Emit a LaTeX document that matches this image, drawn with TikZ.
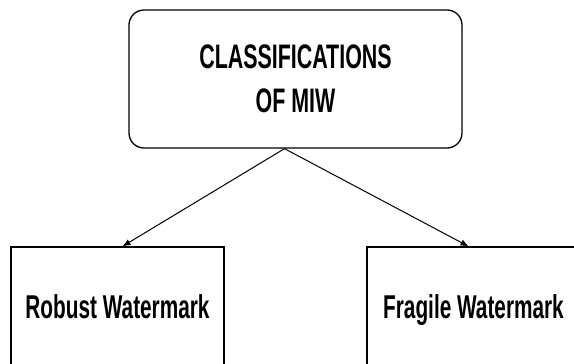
\documentclass[tikz,border=0pt]{standalone}
\usepackage{fontspec}
\newfontfamily\diagfont[FakeStretch=0.63]{Liberation Sans}
\usetikzlibrary{positioning,arrows.meta}
\tikzset{
  rootblk/.style ={draw=black, fill=white, rounded corners=15pt, align=center,
                   font=\diagfont\bfseries\fontsize{34}{44}\selectfont, inner sep=0pt,
                   line width=1.3pt, minimum width=333pt, minimum height=138pt},
  leafblk/.style ={draw=black, fill=white, align=center,
                   font=\diagfont\bfseries\fontsize{33}{37}\selectfont, inner sep=0pt,
                   line width=1.3pt, minimum width=213pt, minimum height=119pt,
                   text height=24pt, text depth=0pt},
  ar/.style      ={-{Latex[length=8pt,width=6.5pt]}, draw=black, line width=1pt},
}
\begin{document}
\begin{tikzpicture}[x=1pt,y=1pt]
\useasboundingbox (0,0) rectangle (574,-364);
\clip (0,0) rectangle (574,-364);
\node[rootblk] (miw) at (295.5,-79) {CLASSIFICATIONS\\ OF MIW};
\node[leafblk] (robust) at (117.5,-306.5) {Robust Watermark};
\node[leafblk] (fragile) at (473.5,-306.5) {Fragile Watermark};

\draw[ar] ([xshift=-11pt]miw.south) -- ([xshift=5pt]robust.north);
\draw[ar] ([xshift=-11pt]miw.south) -- ([xshift=-5pt]fragile.north);
\end{tikzpicture}
\end{document}
